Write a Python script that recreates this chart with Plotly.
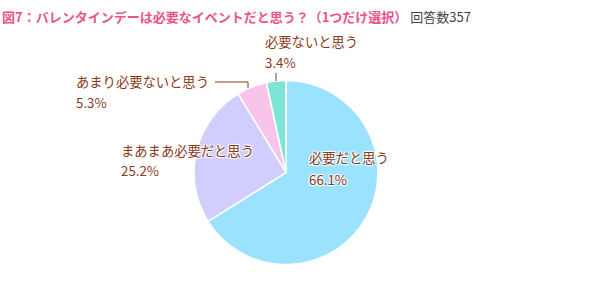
import plotly.graph_objects as go

labels = ["必要だと思う", "まあまあ必要だと思う", "あまり必要ないと思う", "必要ないと思う"]
values = [66.1, 25.2, 5.3, 3.4]
colors = ["#9ae2fe", "#d1cdfd", "#f9c4ec", "#7ee5d4"]
title_main = "図7：バレンタインデーは必要なイベントだと思う？（1つだけ選択）"
title_sub = "回答数357"

W, H = 600, 300
cx, cy, r = 286, 172.5, 92

fig = go.Figure(go.Pie(
    labels=labels, values=values, sort=False, direction="clockwise", rotation=0,
    marker=dict(colors=colors, line=dict(color="white", width=1.5)),
    textinfo="none", hoverinfo="label+percent", showlegend=False,
    domain=dict(x=[(cx - r) / W, (cx + r) / W], y=[(H - cy - r) / H, (H - cy + r) / H]),
))

font = "Noto Sans CJK JP"
brown = "#8a3a1c"
shadow = "white 1px 1px 1px, white -1px -1px 1px, white 1px -1px 1px, white -1px 1px 1px"
# (x_left, y_center_line1, y_center_line2)
label_pos = [(307, 158, 179), (119, 150, 171), (74, 81, 103), (263, 41, 63)]
anns = []
for lab, v, (x, y1, y2) in zip(labels, values, label_pos):
    for txt, yy in ((lab, y1), (f"{v}%", y2)):
        anns.append(dict(
            x=x / W, y=1 - yy / H, xref="paper", yref="paper", xanchor="left", yanchor="middle",
            text=txt, showarrow=False, align="left",
            font=dict(family=font, size=13.3, color=brown, shadow=shadow),
        ))
anns.append(dict(
    x=0, y=1 - 17 / H, xref="paper", yref="paper", xanchor="left", yanchor="middle",
    text=f"<span style='color:#e9538c'><b>{title_main}</b></span> <span style='color:#444444'>{title_sub}</span>",
    showarrow=False, font=dict(family=font, size=13),
))

shapes = [
    dict(type="path", xref="paper", yref="paper",
         path=f"M {215/W},{1-82/H} L {248/W},{1-82/H} L {248/W},{1-88/H}",
         line=dict(color=brown, width=1)),
    dict(type="line", xref="paper", yref="paper",
         x0=276 / W, x1=276 / W, y0=1 - 73 / H, y1=1 - 81 / H,
         line=dict(color=brown, width=1)),
]

fig.update_layout(
    width=W, height=H, margin=dict(l=0, r=0, t=0, b=0),
    paper_bgcolor="white", plot_bgcolor="white",
    annotations=anns, shapes=shapes,
)
fig.write_html("out.html", config={"displayModeBar": False},
               post_script="document.body.style.margin='0';")
